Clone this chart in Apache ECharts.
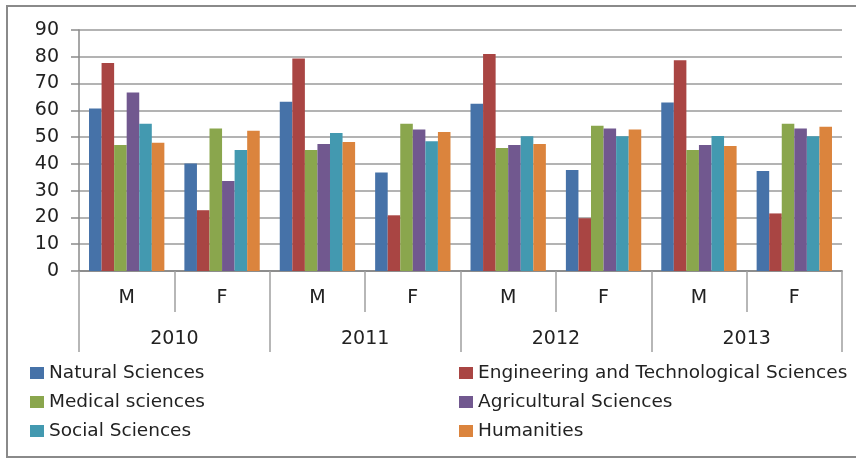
<!DOCTYPE html>
<html>
<head>
<meta charset="utf-8">
<script src="https://cdn.jsdelivr.net/npm/echarts@6/dist/echarts.min.js"></script>
<style>
html,body{margin:0;padding:0;background:#fff;overflow:hidden;}
#chart{width:856px;height:459px;}
</style>
</head>
<body>
<div id="chart"></div>
<script>
var subCategories = ['M','F','M','F','M','F','M','F'];
var years = ['2010','2011','2012','2013'];
var yTicks = [0,10,20,30,40,50,60,70,80,90];

var seriesNames = ['Natural Sciences','Engineering and Technological Sciences','Medical sciences','Agricultural Sciences','Social Sciences','Humanities'];
var natural      = [60.7, 40.1, 63.2, 36.8, 62.5, 37.7, 62.9, 37.3];
var engineering  = [77.7, 22.7, 79.4, 20.8, 81.0, 19.7, 78.7, 21.5];
var medical      = [47.1, 53.2, 45.2, 55.0, 45.9, 54.2, 45.2, 55.0];
var agricultural = [66.7, 33.6, 47.4, 52.8, 47.1, 53.2, 47.1, 53.2];
var social       = [55.0, 45.2, 51.5, 48.5, 50.3, 50.3, 50.4, 50.3];
var humanities   = [47.9, 52.4, 48.2, 51.9, 47.4, 52.8, 46.7, 53.9];

var colors = ['#4672A8','#A94543','#8AA64D','#71588F','#4399B0','#DB843D'];
var allData = [natural, engineering, medical, agricultural, social, humanities];

var FONT = 'DejaVu Sans';
var chart = echarts.init(document.getElementById('chart'));
var series = seriesNames.map(function(n,i){
  return {
    name: n, type: 'bar', data: allData[i], xAxisIndex: 0, yAxisIndex: 0,
    barGap: '0%', barCategoryGap: '21%',
    itemStyle: {color: colors[i]}
  };
});
var legendStyle = {
  orient: 'vertical', icon: 'rect', itemWidth: 14, itemHeight: 12,
  itemGap: 9, padding: 0,
  textStyle: {fontFamily: FONT, fontSize: 18.5, color: '#222', lineHeight: 20}
};
var borderStyle = {stroke: '#8a8a8a', lineWidth: 2};
chart.setOption({
  animation: false,
  color: colors,
  grid: {left: 79, right: 14, top: 30, bottom: 188, containLabel: false},
  graphic: [
    {type: 'line', shape: {x1: 6, y1: 6, x2: 856, y2: 6}, style: borderStyle, silent: true},
    {type: 'line', shape: {x1: 6, y1: 457, x2: 856, y2: 457}, style: borderStyle, silent: true},
    {type: 'line', shape: {x1: 7, y1: 5, x2: 7, y2: 458}, style: borderStyle, silent: true}
  ],
  legend: [
    Object.assign({left: 30, top: 363, data: [seriesNames[0], seriesNames[2], seriesNames[4]]}, legendStyle),
    Object.assign({left: 459, top: 363, data: [seriesNames[1], seriesNames[3], seriesNames[5]]}, legendStyle)
  ],
  xAxis: [{
    type: 'category', data: subCategories, position: 'bottom', gridIndex: 0,
    boundaryGap: true,
    axisLine: {show: true, lineStyle: {color: '#8a8a8a', width: 1.5}},
    axisTick: {show: true, interval: 0, alignWithLabel: false, length: 41, lineStyle: {color: '#a0a0a0', width: 1.5}},
    axisLabel: {margin: 18, fontFamily: FONT, fontSize: 19, color: '#222'}
  }, {
    type: 'category', data: years, position: 'bottom', offset: 0, gridIndex: 0,
    boundaryGap: true,
    axisLine: {show: true, lineStyle: {color: '#8a8a8a', width: 1.5}},
    axisTick: {show: true, interval: 0, alignWithLabel: false, length: 81, lineStyle: {color: '#a0a0a0', width: 1.5}},
    axisLabel: {margin: 59, fontFamily: FONT, fontSize: 19, color: '#222'}
  }],
  yAxis: {
    type: 'value', min: yTicks[0], max: yTicks[yTicks.length-1], interval: 10,
    axisLine: {show: true, lineStyle: {color: '#8a8a8a', width: 1.5}},
    axisTick: {show: true, length: 8, lineStyle: {color: '#8a8a8a', width: 1.5}},
    splitLine: {lineStyle: {color: '#9a9a9a', width: 1.5}},
    axisLabel: {margin: 20, fontFamily: FONT, fontSize: 19, color: '#222'}
  },
  series: series
});
</script>
</body>
</html>
